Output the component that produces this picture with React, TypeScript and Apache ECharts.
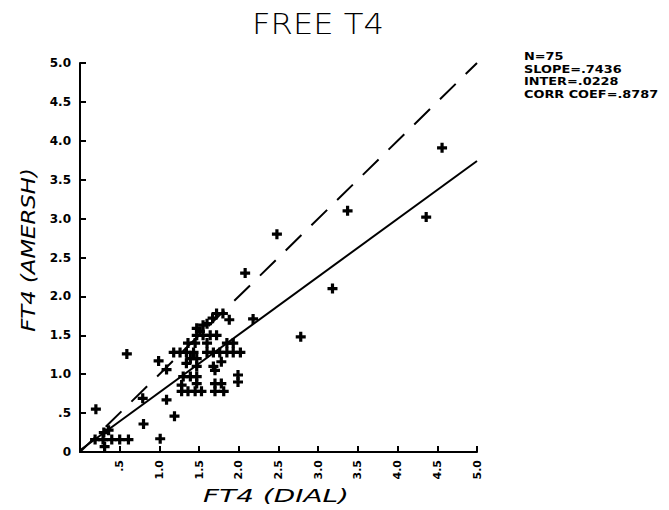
import React, { useEffect, useRef } from "react";
import * as echarts from "echarts";

const dialValues = [
  4.56, 4.36, 3.37, 2.48, 2.08, 3.18, 2.78, 2.18, 1.88,
  0.20, 0.59, 0.80, 1.01, 1.09, 1.19, 0.79, 0.36, 0.19, 0.29, 0.40, 0.50, 0.61, 0.31, 0.30,
  0.99, 1.09, 1.72, 1.80, 1.60, 1.67, 1.55, 1.51, 1.47, 1.47, 1.55, 1.64, 1.72,
  1.36, 1.45, 1.60, 1.85, 1.93,
  1.18, 1.26, 1.34, 1.43, 1.60, 1.68, 1.76, 1.85, 1.93, 2.02,
  1.39, 1.47, 1.78, 1.47, 1.34, 1.68,
  1.30, 1.39, 1.47, 1.70, 1.99, 1.99, 1.28, 1.47, 1.70, 1.78,
  1.28, 1.36, 1.45, 1.53, 1.70, 1.81,
];
const amershValues = [
  3.91, 3.02, 3.10, 2.80, 2.30, 2.10, 1.48, 1.71, 1.70,
  0.55, 1.26, 0.36, 0.17, 0.67, 0.46, 0.69, 0.28, 0.16, 0.16, 0.16, 0.16, 0.16, 0.07, 0.25,
  1.17, 1.06, 1.78, 1.78, 1.65, 1.72, 1.63, 1.55, 1.59, 1.50, 1.50, 1.50, 1.50,
  1.40, 1.40, 1.40, 1.40, 1.40,
  1.28, 1.28, 1.28, 1.28, 1.28, 1.28, 1.28, 1.28, 1.28, 1.28,
  1.20, 1.20, 1.16, 1.10, 1.14, 1.10,
  0.97, 0.97, 0.97, 1.05, 0.99, 0.90, 0.86, 0.88, 0.88, 0.88,
  0.78, 0.78, 0.78, 0.78, 0.78, 0.78,
];

const slope = 0.7436;
const intercept = 0.0228;
const axisRange = [0, 5];
const tickStep = 0.5;

const titleText = "FREE T4";
const xName = "FT4 (DIAL)";
const yName = "FT4 (AMERSH)";
const statLines = ["N=75", "SLOPE=.7436", "INTER=.0228", "CORR COEF=.8787"];

const plusPath = "path://M3.4,0H6.6V3.4H10V6.6H6.6V10H3.4V6.6H0V3.4H3.4Z";

function fmtTick(v: number, showZero: boolean) {
  if (v === 0) return showZero ? "0" : "";
  if (v < 1) return "." + Math.round(v * 10);
  return v.toFixed(1);
}

export default function App() {
  const ref = useRef<HTMLDivElement>(null);
  useEffect(() => {
    if (!ref.current) return;
    const chart = echarts.init(ref.current, null, { renderer: "svg" });
    const pts = dialValues.map((x, i) => [x, amershValues[i]]);
    const fit = axisRange.map((x) => [x, slope * x + intercept]);
    const ident = axisRange.map((x) => [x, x]);
    const axisCommon = {
      type: "value" as const,
      min: axisRange[0],
      max: axisRange[1],
      interval: tickStep,
      splitLine: { show: false },
      axisLine: { show: true, onZero: false, lineStyle: { color: "#000", width: 2 } },
      axisTick: { show: true, inside: true, length: 6, lineStyle: { color: "#000", width: 2 } },
    };
    chart.setOption({
      animation: false,
      backgroundColor: "#fff",
      grid: { left: 80, top: 63, width: 397, height: 389 },
      xAxis: {
        ...axisCommon,
        axisLabel: {
          rotate: 90,
          margin: 8,
          fontFamily: "DejaVu Sans",
          fontWeight: "bold",
          fontSize: 11,
          color: "#000",
          formatter: (v: number) => fmtTick(v, false),
        },
      },
      yAxis: {
        ...axisCommon,
        axisLabel: {
          margin: 9,
          fontFamily: "DejaVu Sans",
          fontWeight: "bold",
          fontSize: 12,
          color: "#000",
          formatter: (v: number) => fmtTick(v, true),
        },
      },
      series: [
        {
          type: "line",
          data: ident,
          symbol: "none",
          lineStyle: { color: "#000", width: 2, type: [22, 14] },
        },
        {
          type: "line",
          data: fit,
          symbol: "none",
          lineStyle: { color: "#000", width: 2 },
        },
        {
          type: "scatter",
          data: pts,
          symbol: plusPath,
          symbolSize: 10,
          itemStyle: { color: "#000", opacity: 1 },
        },
      ],
      graphic: [
        {
          type: "text",
          x: 318,
          y: 24,
          scaleX: 1.15,
          style: {
            text: titleText,
            fontFamily: "DejaVu Sans",
            fontWeight: "lighter",
            fontSize: 28,
            fill: "#000",
            textAlign: "center",
            textVerticalAlign: "middle",
          },
        },
        {
          type: "text",
          x: 276,
          y: 496,
          scaleX: 1.55,
          style: {
            text: xName,
            fontFamily: "DejaVu Sans",
            fontStyle: "italic",
            fontSize: 18,
            fill: "#000",
            textAlign: "center",
            textVerticalAlign: "middle",
          },
        },
        {
          type: "text",
          x: 29,
          y: 250,
          rotation: Math.PI / 2,
          scaleX: 1.2,
          style: {
            text: yName,
            fontFamily: "DejaVu Sans",
            fontStyle: "italic",
            fontSize: 19,
            fill: "#000",
            textAlign: "center",
            textVerticalAlign: "middle",
          },
        },
        {
          type: "group",
          x: 524,
          y: 51,
          children: statLines.map((t, i) => ({
            type: "text",
            x: 0,
            y: i * 12.5,
            scaleX: 1.17,
            style: { text: t, fontFamily: "DejaVu Sans", fontWeight: "bold", fontSize: 11, fill: "#000" },
          })),
        },
      ],
    });
    return () => chart.dispose();
  }, []);
  return (
    <div
      ref={ref}
      style={{ position: "fixed", left: 0, top: 0, width: 669, height: 510, background: "#fff" }}
    />
  );
}
